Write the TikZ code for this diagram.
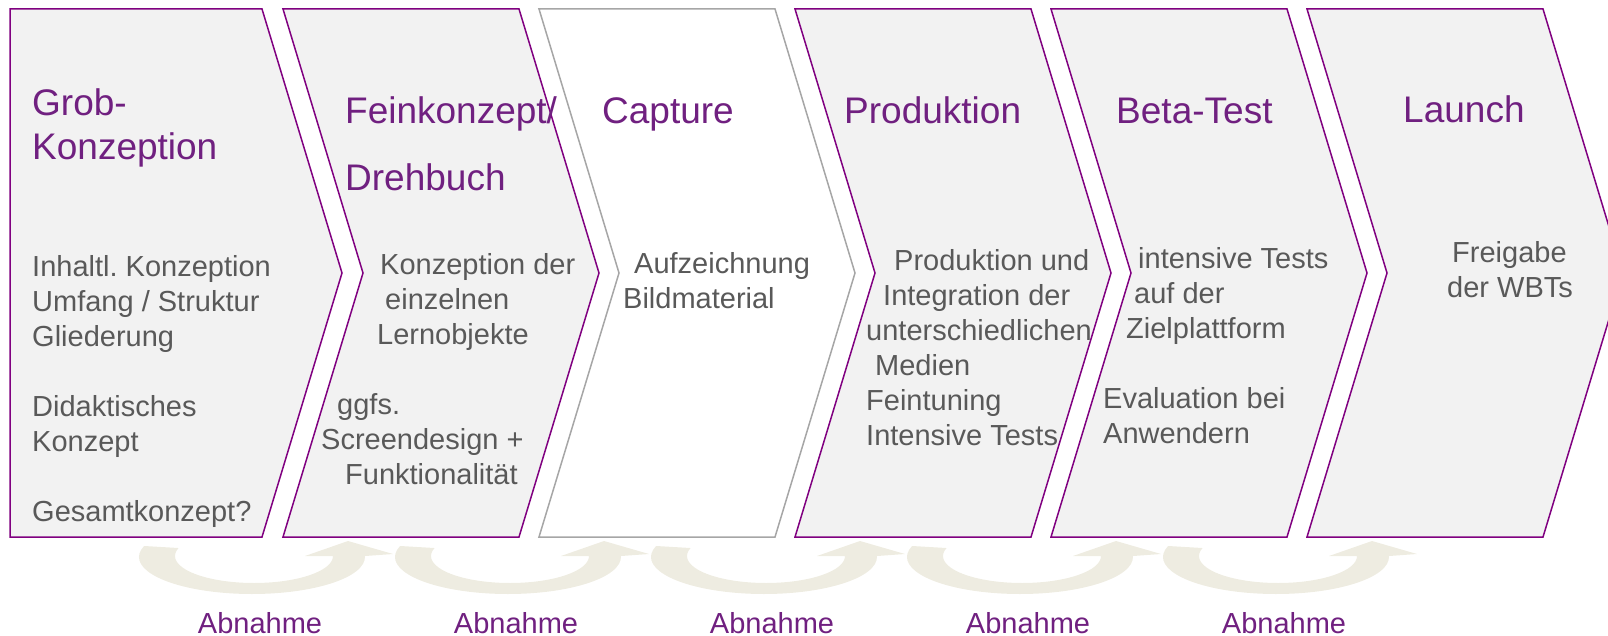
\documentclass[tikz,border=0pt]{standalone}
\usepackage{fontspec}
\setmainfont{Liberation Sans}
\usetikzlibrary{calc}
\definecolor{stagepurple}{RGB}{128,0,128}
\definecolor{titlepurple}{RGB}{112,32,128}
\definecolor{bodygray}{RGB}{89,89,89}
\definecolor{stagefill}{RGB}{242,242,242}
\definecolor{capturegray}{RGB}{166,166,166}
\definecolor{arrowtan}{RGB}{238,236,225}
\def\chevron[#1](#2:#3){\draw[#1] (#2,9) -- (#3,9) -- (#3+80,273) -- (#3,537) -- (#2,537) -- (#2+80,273) -- cycle;}
\frenchspacing

\begin{document}
\begin{tikzpicture}[x=1pt, y=-1pt,
		stage/.style={draw=stagepurple, fill=stagefill, line width=1.5pt},
		stagecapture/.style={draw=capturegray, fill=white, line width=1.5pt},
		stagetitle/.style={anchor=base west, inner sep=0pt, text=titlepurple, font=\fontsize{37}{44}\selectfont, align=left},
		stagebody/.style={anchor=base west, inner sep=0pt, text=bodygray, font=\fontsize{29}{35}\selectfont, align=left},
		approval/.style={anchor=base, inner sep=0pt, text=titlepurple, font=\fontsize{29}{35}\selectfont}]
			%%%%% START %%%%%
			
			\clip (0,0) rectangle (1608,636);
			
			\draw[stage] (10,9) -- (262,9) -- (342,273) -- (262,537) -- (10,537) -- cycle;
			\chevron[stage](283:519)
			\chevron[stagecapture](539:775)
			\chevron[stage](795:1031)
			\chevron[stage](1051:1287)
			\chevron[stage](1307:1543)
			
			% text blocks sit on the baseline of their last line
			\node[stagetitle] (grobtitle) at (32,160) {Grob-\\Konzeption};
			\node[stagebody] (grobbody) at (32,521) {Inhaltl. Konzeption\\Umfang / Struktur\\Gliederung\\[35pt]Didaktisches\\Konzept\\[35pt]Gesamtkonzept?};
			
			\node[stagetitle] (feintitle) at (345,191) {Feinkonzept/\\[23pt]Drehbuch};
			\node[stagebody] (feinbody) at (321,484) {\hspace*{59pt}Konzeption der\\\hspace*{64pt}einzelnen\\\hspace*{56pt}Lernobjekte\\[35pt]\hspace*{16pt}ggfs.\\Screendesign +\\\hspace*{24pt}Funktionalität};
			
			\node[stagetitle] (capturetitle) at (602,124) {Capture};
			\node[stagebody] (capturebody) at (623,308) {\hspace*{11pt}Aufzeichnung\\Bildmaterial};
			
			\node[stagetitle] (prodtitle) at (844,124) {Produktion};
			\node[stagebody] (prodbody) at (866,445) {\hspace*{28pt}Produktion und\\\hspace*{17pt}Integration der\\unterschiedlichen\\\hspace*{9pt}Medien\\Feintuning\\Intensive Tests};
			
			\node[stagetitle] (betatitle) at (1116,124) {Beta-Test};
			\node[stagebody] (betabody) at (1103,443) {\hspace*{35pt}intensive Tests\\\hspace*{31pt}auf der\\\hspace*{23pt}Zielplattform\\[35pt]Evaluation bei\\Anwendern};
			
			\node[stagetitle] (launchtitle) at (1403,123) {Launch};
			\node[stagebody] (launchbody) at (1447,298) {\hspace*{5pt}Freigabe\\der WBTs};
			
			% approval loops below the stages
			\foreach \k in {0,...,4} {
				\fill[arrowtan, shift={(256*\k,0)}] (144.1,546) arc[start angle=197.3, end angle=-1.5, x radius=113, y radius=37] -- (393,554) -- (348,541) -- (305,556) -- (333,556) arc[start angle=0, end angle=197.2, x radius=79, y radius=27] -- cycle;
				\node[approval] (approval\k) at (260+256*\k,633) {Abnahme};
			}
			
			%%%%% END %%%%%
\end{tikzpicture}
\end{document}
